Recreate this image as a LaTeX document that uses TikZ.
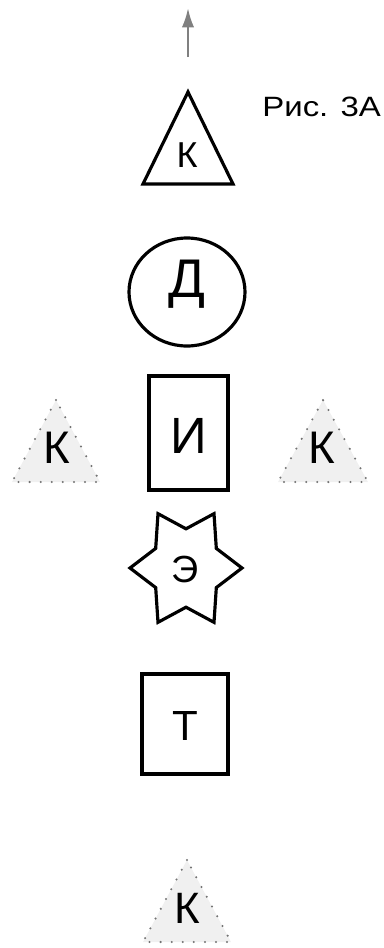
\documentclass[tikz,border=0pt]{standalone}
\usepackage{fontspec}
\setmainfont{Liberation Sans}
\newfontfamily\largo[FakeStretch=1.18]{Liberation Sans}
\usetikzlibrary{arrows.meta}
\tikzset{
  forma/.style={black, line width=1.8pt, line join=miter},
  ponteado/.style={black!55, fill=black!6, line width=1.3pt, line cap=round, dash pattern=on 0pt off 6.3pt},
  seta/.style={-{Latex[length=11pt, width=7pt]}, black!50, line width=1.4pt},
  letra/.style={anchor=base, inner sep=0pt},
  titulo/.style={anchor=base west, inner sep=0pt, font=\largo\fontsize{15.9}{18}\selectfont},
}
% triângulo: estilo, vértice, meia base, altura
\newcommand{\triangulo}[4]{%
  \draw[#1] (#2) -- ++(-#3,#4) -- ++(2*#3,0) -- cycle;
}
\newcommand{\tam}[1]{\fontsize{#1}{#1}\selectfont}

\begin{document}
\begin{tikzpicture}[x=0.02cm, y=-0.02cm]
  \useasboundingbox (0,0) rectangle (383,948);

  % ---------------- pontos ----------------
  \coordinate (setaI) at (188,57);
  \coordinate (setaF) at (188,8);
  \coordinate (Vtopo) at (188,92);
  \coordinate (D) at (187,292);
  \coordinate (E) at (186,568);
  \coordinate (Vesq) at (56,400);
  \coordinate (Vdir) at (323,400);
  \coordinate (Vbaixo) at (187,860);

  % ---------------- coluna central ----------------
  \draw[seta] (setaI) -- (setaF);
  \triangulo{forma}{Vtopo}{45}{92}
  \draw[forma] (D) ellipse [x radius=58, y radius=54];
  \draw[forma] (149,376) rectangle (228,490);
  \draw[forma, shift={(E)}, yscale=1.12]
    (0:56) -- (30:35) -- (60:56) -- (90:35) -- (120:56) -- (150:35)
    -- (180:56) -- (210:35) -- (240:56) -- (270:35) -- (300:56) -- (330:35) -- cycle;
  \draw[forma] (142,674) rectangle (228,774);

  % ---------------- triângulos pontilhados ----------------
  \triangulo{ponteado}{Vesq}{44}{82}
  \triangulo{ponteado}{Vdir}{45}{82}
  \triangulo{ponteado}{Vbaixo}{44}{82}

  % ---------------- letras ----------------
  \node[letra, font=\tam{20.5}] (k1) at (187,167) {К};
  \node[letra, font=\tam{31}] (d) at (187,297) {Д};
  \node[letra, font=\tam{29}] (i) at (189,453) {И};
  \node[letra, font=\tam{21.5}] (e) at (185,582) {Э};
  \node[letra, font=\tam{24}] (t) at (185,740) {Т};
  \node[letra, font=\tam{26}] (k2) at (57,463) {К};
  \node[letra, font=\tam{26}] (k3) at (322,463) {К};
  \node[letra, font=\tam{25}] (k4) at (187,923) {К};
  \node[titulo] (fig) at (262,116) {Рис. 3А};
\end{tikzpicture}
\end{document}
